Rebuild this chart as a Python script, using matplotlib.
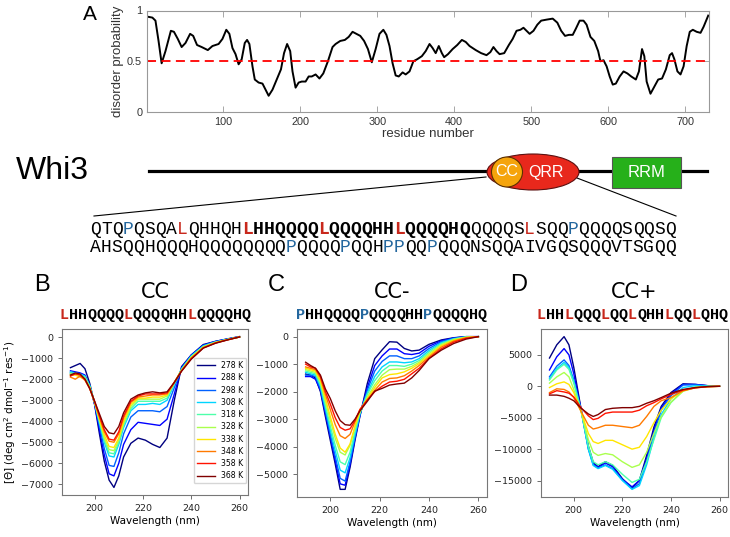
import numpy as np
import matplotlib
matplotlib.use('Agg')
import matplotlib.pyplot as plt
from matplotlib.patches import Ellipse, Rectangle

# ---- panel A: disorder prediction ----
res = [1, 8, 12, 16, 20, 25, 32, 36, 41, 46,
       51, 57, 61, 66, 72, 80, 86, 94, 99, 104,
       108, 112, 116, 120, 124, 128, 131, 134, 138, 141,
       146, 151, 155, 159, 164, 170, 175, 179, 183, 187,
       190, 194, 198, 202, 207, 211, 215, 220, 225, 230,
       236, 242, 246, 252, 258, 263, 268, 273, 278, 283,
       288, 293, 298, 303, 308, 312, 316, 320, 324, 328,
       333, 337, 342, 347, 352, 358, 363, 368, 372, 376,
       380, 384, 387, 392, 398, 404, 410, 415, 420, 428,
       435, 442, 447, 451, 455, 459, 465, 471, 476, 481,
       486, 490, 494, 498, 503, 508, 513, 520, 528, 534,
       539, 544, 549, 554, 558, 563, 568, 572, 577, 582,
       587, 590, 594, 598, 602, 606, 610, 615, 620, 625,
       630, 636, 640, 644, 647, 650, 655, 660, 665, 670,
       675, 680, 683, 686, 690, 694, 698, 702, 706, 710,
       715, 720, 724, 730]
dis = [0.94, 0.93, 0.90, 0.70, 0.48, 0.60, 0.80, 0.79, 0.72, 0.64,
       0.68, 0.77, 0.75, 0.66, 0.64, 0.61, 0.65, 0.67, 0.72, 0.81,
       0.77, 0.63, 0.57, 0.47, 0.52, 0.68, 0.71, 0.67, 0.45, 0.32,
       0.29, 0.28, 0.22, 0.16, 0.22, 0.33, 0.42, 0.58, 0.67, 0.60,
       0.40, 0.24, 0.29, 0.30, 0.30, 0.35, 0.35, 0.37, 0.33, 0.38,
       0.50, 0.64, 0.67, 0.70, 0.71, 0.74, 0.79, 0.77, 0.75, 0.70,
       0.62, 0.49, 0.62, 0.77, 0.81, 0.76, 0.65, 0.48, 0.36, 0.35,
       0.39, 0.37, 0.40, 0.50, 0.52, 0.55, 0.60, 0.67, 0.63, 0.58,
       0.65, 0.58, 0.54, 0.57, 0.62, 0.66, 0.71, 0.69, 0.65, 0.61,
       0.58, 0.56, 0.59, 0.64, 0.60, 0.57, 0.58, 0.66, 0.72, 0.80,
       0.81, 0.83, 0.80, 0.77, 0.80, 0.86, 0.90, 0.91, 0.92, 0.88,
       0.80, 0.75, 0.76, 0.76, 0.82, 0.90, 0.90, 0.86, 0.74, 0.70,
       0.60, 0.50, 0.51, 0.45, 0.35, 0.27, 0.28, 0.35, 0.40, 0.38,
       0.35, 0.32, 0.40, 0.62, 0.55, 0.30, 0.18, 0.25, 0.32, 0.33,
       0.42, 0.56, 0.58, 0.52, 0.40, 0.37, 0.45, 0.65, 0.79, 0.81,
       0.79, 0.78, 0.84, 0.95]

# ---- CD spectra ----
temps = [278, 288, 298, 308, 318, 328, 338, 348, 358, 368]

wl_b = [190, 192, 194, 196, 198, 200, 202, 204, 206, 208, 210, 212, 215,
        218, 221, 224, 227, 230, 233, 236, 240, 245, 250, 255, 260]
cd_cc = [
    [-1450, -1350, -1250, -1500, -2200, -3200, -4600, -5900, -6800, -7150, -6600, -5700, -5050,
     -4800, -4900, -5100, -5250, -4800, -3000, -1400, -850, -350, -200, -80, 30],
    [-1600, -1650, -1700, -1800, -2300, -3200, -4400, -5600, -6500, -6600, -6000, -5100, -4400,
     -4050, -4100, -4150, -4200, -3900, -2700, -1450, -850, -380, -200, -90, 20],
    [-1700, -1750, -1800, -1900, -2350, -3150, -4200, -5300, -6100, -6150, -5500, -4600, -3800,
     -3500, -3500, -3500, -3550, -3300, -2400, -1500, -880, -400, -220, -100, 20],
    [-1650, -1700, -1750, -1850, -2300, -3100, -4100, -5000, -5650, -5700, -5100, -4300, -3500,
     -3200, -3200, -3150, -3200, -3000, -2250, -1500, -900, -420, -230, -100, 10],
    [-1700, -1750, -1800, -1900, -2350, -3100, -4000, -4900, -5500, -5550, -5000, -4200, -3400,
     -3050, -3050, -3050, -3050, -2900, -2200, -1550, -920, -440, -240, -110, 10],
    [-1750, -1750, -1850, -1950, -2400, -3100, -3950, -4800, -5350, -5400, -4900, -4100, -3300,
     -2950, -2950, -2950, -2950, -2800, -2150, -1550, -950, -460, -250, -110, 10],
    [-1800, -1800, -1900, -2000, -2400, -3100, -3900, -4650, -5200, -5250, -4800, -4000, -3200,
     -2900, -2900, -2850, -2850, -2750, -2150, -1580, -980, -480, -260, -120, 10],
    [-1900, -2000, -1850, -2050, -2450, -3100, -3800, -4500, -4950, -5000, -4600, -3850, -3100,
     -2850, -2800, -2750, -2750, -2700, -2150, -1600, -1000, -500, -270, -120, 10],
    [-1850, -1750, -1800, -2000, -2450, -3050, -3750, -4400, -4850, -4900, -4500, -3750, -3050,
     -2800, -2700, -2700, -2700, -2650, -2150, -1600, -1020, -510, -280, -130, 10],
    [-1800, -1700, -1750, -2000, -2450, -3050, -3650, -4250, -4550, -4600, -4250, -3600, -2950,
     -2750, -2650, -2600, -2650, -2600, -2150, -1620, -1050, -520, -290, -130, 10],
]

wl_c = [190, 192, 194, 196, 198, 200, 202, 204, 206, 208, 210, 212, 215,
        218, 221, 224, 227, 230, 233, 236, 240, 245, 250, 255, 260]
cd_ccm = [
    [-1360, -1400, -1500, -2000, -2900, -3770, -4630, -5550, -5550, -4750, -3770, -2900, -1700,
     -800, -480, -185, -200, -430, -520, -490, -280, -120, -40, 0, 0],
    [-1450, -1450, -1550, -1950, -2800, -3650, -4500, -5350, -5400, -4650, -3700, -2850, -1850,
     -1050, -700, -450, -450, -620, -650, -600, -350, -150, -50, 0, 0],
    [-1400, -1400, -1450, -1900, -2700, -3550, -4350, -5150, -5250, -4550, -3650, -2850, -1950,
     -1250, -900, -700, -700, -800, -800, -700, -430, -180, -60, -10, 0],
    [-1300, -1350, -1400, -1800, -2600, -3400, -4150, -4850, -4950, -4400, -3550, -2800, -2050,
     -1450, -1100, -920, -920, -950, -920, -800, -500, -220, -80, -10, 0],
    [-1250, -1300, -1350, -1750, -2500, -3250, -3950, -4550, -4650, -4200, -3450, -2750, -2100,
     -1600, -1250, -1050, -1050, -1080, -1000, -870, -560, -250, -90, -15, 0],
    [-1200, -1250, -1300, -1650, -2350, -3050, -3700, -4200, -4300, -3950, -3300, -2750, -2200,
     -1750, -1400, -1200, -1180, -1180, -1080, -930, -620, -290, -110, -20, 0],
    [-1150, -1200, -1250, -1600, -2250, -2900, -3550, -4050, -4200, -3900, -3250, -2700, -2250,
     -1850, -1500, -1380, -1350, -1280, -1150, -980, -680, -330, -130, -30, 0],
    [-1100, -1150, -1200, -1500, -2100, -2650, -3200, -3600, -3700, -3550, -3100, -2650, -2300,
     -1950, -1650, -1520, -1500, -1420, -1250, -1050, -740, -380, -160, -40, 0],
    [-1000, -1100, -1150, -1450, -2000, -2450, -2950, -3300, -3400, -3350, -3050, -2650, -2300,
     -2000, -1800, -1650, -1620, -1550, -1350, -1150, -790, -440, -200, -60, 0],
    [-930, -1050, -1150, -1400, -1900, -2250, -2700, -3050, -3200, -3220, -3000, -2700, -2350,
     -1980, -1880, -1760, -1720, -1690, -1500, -1230, -800, -490, -250, -90, 0],
]

wl_d = [190, 193, 196, 198, 200, 203, 206, 208, 210, 213, 216,
        220, 224, 227, 230, 233, 236, 240, 245, 250, 255, 260]
cd_ccp = [
    [4500, 6600, 7900, 6600, 3000, -3600, -9500, -12100, -12800, -12000, -12600,
     -14700, -16200, -15000, -11000, -6500, -3200, -1000, 400, 300, 100, 0],
    [2600, 4700, 6000, 5000, 2000, -3700, -9800, -12300, -12900, -12200, -12800,
     -14800, -16000, -15000, -11500, -7000, -3500, -1200, 300, 300, 100, 0],
    [1500, 3200, 4200, 3300, 1000, -3800, -10000, -12500, -13000, -12500, -13100,
     -14900, -16300, -15500, -12000, -7500, -3800, -1500, 200, 250, 80, 0],
    [1200, 2800, 3800, 3000, 800, -3800, -10000, -12600, -13100, -12600, -13200,
     -15000, -16400, -15800, -12500, -8200, -4500, -2000, -200, 100, 50, 0],
    [1000, 2600, 3500, 2700, 500, -3900, -9500, -12000, -12500, -12000, -12500,
     -14000, -15300, -14800, -12000, -8500, -5000, -2600, -700, -100, 0, 0],
    [500, 1500, 2200, 1500, -500, -4000, -8500, -10500, -11000, -10700, -10900,
     -12000, -12900, -12500, -10500, -7500, -4800, -2500, -800, -200, -50, 0],
    [-200, 400, 700, 300, -1000, -4000, -7500, -8800, -9100, -8600, -8600,
     -9300, -10000, -9700, -8000, -5800, -3800, -2000, -700, -200, -50, 0],
    [-1000, -400, -500, -900, -1800, -4000, -6200, -6800, -6600, -6200, -6200,
     -6400, -6600, -6200, -4800, -3200, -2300, -1800, -700, -250, -60, 0],
    [-1200, -700, -900, -1100, -1700, -3400, -4700, -5300, -5100, -4300, -4100,
     -4100, -4100, -3800, -3100, -2600, -2000, -1300, -600, -250, -60, 0],
    [-1400, -1400, -1600, -1900, -2300, -3500, -4400, -4800, -4500, -3700, -3500,
     -3400, -3400, -3200, -2700, -2300, -1800, -1100, -500, -200, -50, 0],
]

# ---- sequences ----
seq1 = 'QTQPQSQALQHHQHLHHQQQQLQQQQHHLQQQQHQQQQQSLSQQPQQQQSQQSQ'
seq2 = 'AHSQQHQQQHQQQQQQQQPQQQQPQQHPPQQPQQQNSQQAIVGQSQQQVTSGQQ'
bold1 = (14, 35)
seq_cc = 'LHHQQQQLQQQQHHLQQQQHQ'
seq_ccm = 'PHHQQQQPQQQQHHPQQQQHQ'
seq_ccp = 'LHHLQQQLQQLQHHLQQLQHQ'

RED = '#c8281c'
BLUE = '#24679e'

fig = plt.figure(figsize=(7.3, 5.37), dpi=100)

# overlay in pixel coordinates for the diagram and text
ax0 = fig.add_axes([0, 0, 1, 1])
ax0.set_xlim(0, 730)
ax0.set_ylim(537, 0)
ax0.axis('off')


def draw_seq(s, x0, y, cw, size, bold=(0, 0)):
    # one text per residue so L / P can be coloured
    for i, ch in enumerate(s):
        col = RED if ch == 'L' else BLUE if ch == 'P' else 'black'
        w = 'bold' if bold[0] <= i < bold[1] else 'normal'
        ax0.text(x0 + (i + 0.5) * cw, y, ch, ha='center', va='center', color=col,
                 fontsize=size, family='Liberation Mono', fontweight=w)


# Whi3 domain diagram
ax0.text(16, 171, 'Whi3', fontsize=23, family='Liberation Sans', va='center', ha='left')
ax0.plot([149, 707], [171, 171], color='black', lw=2.3, zorder=1)
ax0.plot([486, 94], [177, 216], color='black', lw=0.8, zorder=1)
ax0.plot([577, 676], [178, 216], color='black', lw=0.8, zorder=1)
ax0.add_patch(Ellipse((533, 172), 92, 36, facecolor='#e8281c', edgecolor='#5a1010', lw=0.8, zorder=2))
ax0.add_patch(Ellipse((507, 172), 31, 30, facecolor='#f5a40c', edgecolor='#5a3000', lw=0.8, zorder=3))
ax0.text(507, 172, 'CC', color='white', fontsize=11.5, family='Liberation Sans', ha='center', va='center', zorder=4)
ax0.text(546, 172, 'QRR', color='white', fontsize=11.5, family='Liberation Sans', ha='center', va='center', zorder=4)
ax0.add_patch(Rectangle((612, 157), 69, 31, facecolor='#26b01a', edgecolor='#555555', lw=0.8, zorder=2))
ax0.text(646.5, 172.5, 'RRM', color='white', fontsize=12, family='Liberation Sans', ha='center', va='center', zorder=4)

draw_seq(seq1, 90, 229, 586 / 54, 13, bold=bold1)
draw_seq(seq2, 90, 247, 586 / 54, 13)

# panel letters
ax0.text(90, 14, 'A', fontsize=15, family='Liberation Sans', ha='center', va='center')
ax0.text(42, 285, 'B', fontsize=17, family='Liberation Sans', ha='center', va='center')
ax0.text(276, 285, 'C', fontsize=17, family='Liberation Sans', ha='center', va='center')
ax0.text(519, 285, 'D', fontsize=17, family='Liberation Sans', ha='center', va='center')

# ---- panel A ----
axA = fig.add_axes([147 / 730, 1 - 112 / 537, (709 - 147) / 730, (112 - 10.5) / 537])
axA.plot(res, dis, color='black', lw=1.4)
axA.axhline(0.5, color='red', ls=(0, (5, 3)), lw=1.3)
axA.set_xlim(1, 731)
axA.set_ylim(0, 1)
axA.set_xticks([100, 200, 300, 400, 500, 600, 700])
axA.set_yticks([0, 0.5, 1])
axA.set_yticklabels(['0', '0.5', '1'])
axA.tick_params(direction='in', top=True, right=True, length=4, width=0.6,
                color='#999999', labelcolor='#333333', labelsize=7.8)
for lab in axA.get_xticklabels() + axA.get_yticklabels():
    lab.set_family('Liberation Sans')
for sp in axA.spines.values():
    sp.set_color('#999999')
    sp.set_linewidth(0.8)
axA.set_ylabel('disorder probability', fontsize=9.5, color='#333333', family='Liberation Sans', labelpad=2)
axA.set_xlabel('residue number', fontsize=9.5, color='#333333', family='Liberation Sans', labelpad=1)

# ---- panels B, C, D ----
colors = plt.cm.jet(np.linspace(0, 1, len(temps)))
panels = [
    ([62 / 730, 1 - 495 / 537, 186 / 730, 166 / 537], wl_b, cd_cc, 'CC', seq_cc, 60,
     [0, -1000, -2000, -3000, -4000, -5000, -6000, -7000]),
    ([297 / 730, 1 - 497 / 537, 190 / 730, 168 / 537], wl_c, cd_ccm, 'CC-', seq_ccm, 296,
     [0, -1000, -2000, -3000, -4000, -5000]),
    ([541 / 730, 1 - 497 / 537, 187 / 730, 168 / 537], wl_d, cd_ccp, 'CC+', seq_ccp, 537,
     [5000, 0, -5000, -10000, -15000]),
]
for k, (pos, wl, data, title, sq, sx, yt) in enumerate(panels):
    ax = fig.add_axes(pos)
    for t, row, c in zip(temps, data, colors):
        ax.plot(wl, row, color=c, lw=1.0, label='%d K' % t)
    ax.set_xticks([200, 220, 240, 260])
    ax.set_yticks(yt)
    ax.tick_params(labelsize=6.8, length=3, width=0.6, color='#555555', labelcolor='#222222')
    for sp in ax.spines.values():
        sp.set_color('#777777')
        sp.set_linewidth(0.8)
    ax.set_xlabel('Wavelength (nm)', fontsize=7.5, labelpad=2)
    cx = (pos[0] + pos[2] / 2) * 730
    ax0.text(cx, 292, title, fontsize=15, ha='center', va='center')
    draw_seq(sq, sx, 315, 9.1, 10.9, bold=(0, len(sq)))
    if k == 0:
        ax.set_ylabel('[$\\Theta$] (deg cm$^2$ dmol$^{-1}$ res$^{-1}$)', fontsize=7.5, labelpad=2)
        ax.legend(loc='lower right', bbox_to_anchor=(1.0, 0.06), fontsize=5.6,
                  handlelength=2.3, labelspacing=0.42, borderaxespad=0.2)

fig.savefig('out.png', dpi=100)
